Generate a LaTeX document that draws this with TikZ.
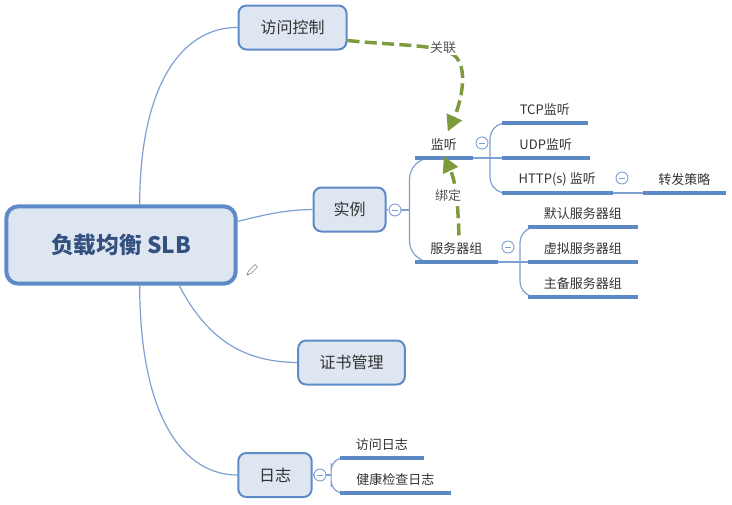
\documentclass[tikz,border=0pt]{standalone}
\usepackage{fontspec}
\newfontfamily\cjk{Noto Sans CJK SC}
\usetikzlibrary{arrows.meta,calc}
\definecolor{boxfill}{HTML}{DEE6F2}
\definecolor{boxdraw}{HTML}{5E8AC7}
\definecolor{linec}{HTML}{7EA0D2}
\definecolor{ulc}{HTML}{5C88C6}
\definecolor{relc}{HTML}{7D9A3C}
\definecolor{maintext}{HTML}{33507F}
\definecolor{tdark}{HTML}{333333}
\definecolor{tgray}{HTML}{555555}
\tikzset{
  mainbox/.style={draw=boxdraw, fill=boxfill, line width=3pt, rounded corners=9pt,
    font=\cjk\bfseries\fontsize{17}{20}\selectfont, text=maintext, inner sep=0pt},
  topic/.style={draw=boxdraw, fill=boxfill, line width=1.5pt, rounded corners=6pt,
    font=\cjk\fontsize{12}{14}\selectfont, text=tdark, inner sep=0pt, minimum height=33pt},
  subt/.style={font=\cjk\fontsize{9.75}{12}\selectfont, text=tdark, inner sep=0pt,
    minimum height=19.5pt, anchor=south west},
  ul/.style={draw=ulc, line width=2.5pt},
  conn/.style={draw=linec, line width=0.9pt},
  fold/.style={circle, draw=linec, fill=white, line width=0.7pt, minimum size=9pt, inner sep=0pt,
    path picture={\draw[linec, line width=0.7pt] ([xshift=-2.5pt]path picture bounding box.center) -- ([xshift=2.5pt]path picture bounding box.center);}},
  rel/.style={draw=relc, line width=2.6pt, dash pattern=on 9pt off 4pt, -{Triangle[length=12pt,width=12pt]}},
  rlabel/.style={font=\cjk\fontsize{9.75}{12}\selectfont, text=tgray, fill=white, inner sep=1pt}
}
\begin{document}
\begin{tikzpicture}[x=0.75pt,y=-0.75pt]
\useasboundingbox (0,0) rectangle (732,504);

% main and topics
\node[mainbox, minimum width=172pt, minimum height=58pt] (main) at (121,245) {负载均衡 SLB};
\node[topic, minimum width=81pt] (fk) at (292.5,27.5) {访问控制};
\node[topic, minimum width=54pt] (sl) at (349.5,209.5) {实例};
\node[topic, minimum width=80pt] (zs) at (351.5,362.5) {证书管理};
\node[topic, minimum width=55pt] (rz) at (275,475) {日志};

% main connectors
\draw[conn] ($(main.north west)!0.58!(main.north east)$) .. controls (140,80) and (185,27) .. (fk.west);
\draw[conn] ($(main.north east)!0.21!(main.south east)$) .. controls (275,212) and (290,210) .. (sl.west);
\draw[conn] ($(main.south west)!0.75!(main.south east)$) .. controls (210,345) and (250,362) .. (zs.west);
\draw[conn] ($(main.south west)!0.58!(main.south east)$) .. controls (140,420) and (185,475) .. (rz.west);

% subtopics
\node[subt, minimum width=42.75pt] (jt) at (415,158) {监听};
\node[subt, minimum width=61.5pt] (fwq) at (415,262) {服务器组};
\node[subt, minimum width=63.75pt] (tcp) at (502,123) {TCP监听};
\node[subt, minimum width=65.25pt] (udp) at (502,158) {UDP监听};
\node[subt, minimum width=82.5pt] (http) at (502,193) {HTTP(s) 监听};
\node[subt, minimum width=61.5pt] (zf) at (643,193) {转发策略};
\node[subt, minimum width=81.75pt] (mr) at (528,227) {默认服务器组};
\node[subt, minimum width=81.75pt] (xn) at (528,262) {虚拟服务器组};
\node[subt, minimum width=81.75pt] (zb) at (528,297) {主备服务器组};
\node[subt, minimum width=62.25pt] (fw) at (340,458) {访问日志};
\node[subt, minimum width=82.5pt] (jk) at (340,493) {健康检查日志};

% fold buttons
\node[fold] (c1) at (395,210) {};
\node[fold] (c2) at (482,143) {};
\node[fold] (c3) at (508,247) {};
\node[fold] (c4) at (622,178) {};
\node[fold] (c5) at (320,475) {};

% 实例 branches
\draw[conn] (sl.east) -- (c1.west);
\draw[conn] (c1.east) -- ([xshift=6pt]c1.east);
\draw[conn, rounded corners=16pt] (jt.south west) -| ([xshift=6pt]c1.east) |- (fwq.south west);
% 监听 branches
\draw[conn] (jt.south east) -- (udp.south west);
\draw[conn, rounded corners=12pt] (tcp.south west) -| ([xshift=-9pt]udp.south west) |- (http.south west);
\draw[conn] (http.south east) -- (zf.south west);
% 服务器组 branches
\draw[conn] (fwq.south east) -- (xn.south west);
\draw[conn, rounded corners=12pt] (mr.south west) -| ([xshift=-6pt]xn.south west) |- (zb.south west);
% 日志 branches
\draw[conn] (rz.east) -- (c5.west);
\draw[conn] (c5.east) -- ([xshift=3.5pt]c5.east);
\draw[conn, rounded corners=9pt] (fw.south west) -| ([xshift=3.5pt]c5.east) |- (jk.south west);

% underlines
\foreach \n in {jt,fwq,tcp,udp,http,zf,mr,xn,zb,fw,jk}
  \draw[ul] (\n.south west) -- (\n.south east);

% relation arrows
\draw[rel] ([yshift=7.5pt]fk.south east) .. controls (400,46) and (440,44) .. (455,56)
  .. controls (468,68) and (462,100) .. ([xshift=3pt]jt.north);
\node[rlabel] (gl) at (443,48) {关联};
\draw[rel] ([xshift=2pt]fwq.north) .. controls (458,205) and (456,182) .. ([yshift=1.5pt]jt.south);
\node[rlabel] (bd) at (448,196) {绑定};

% pencil mark
\draw[gray, line width=0.5pt, line join=round] (247,275) -- (248.5,271) -- (255,264.5) -- (257.5,267) -- (251,273.5) -- cycle;
\end{tikzpicture}
\end{document}
